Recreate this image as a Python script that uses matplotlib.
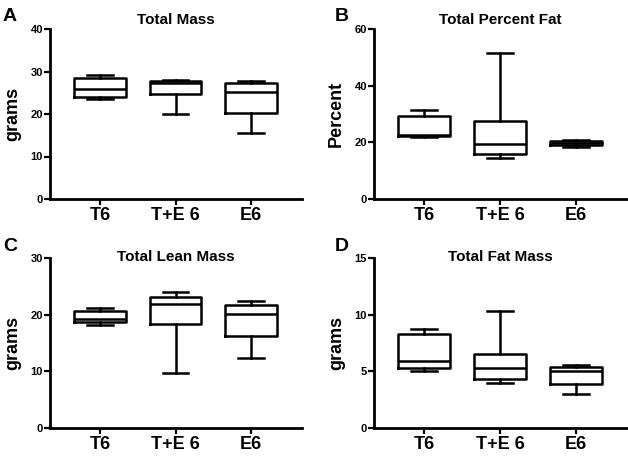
"""
body composition box plots, four panels
"""

import matplotlib.pyplot as plt

plt.rcParams['font.family'] = ['Liberation Sans', 'DejaVu Sans']
plt.rcParams['font.weight'] = 'bold'

groups = ["T6", "T+E 6", "E6"]

# (whisker low, q1, median, q3, whisker high) per group
total_mass = [(23.5, 24.1, 26.0, 28.5, 29.2),
              (20.0, 24.8, 27.3, 27.7, 28.0),
              (15.5, 20.2, 25.2, 27.3, 27.8)]
percent_fat = [(21.8, 22.2, 22.6, 29.4, 31.4),
               (14.4, 15.9, 19.4, 27.7, 51.7),
               (18.5, 18.9, 19.6, 20.5, 20.8)]
lean_mass = [(18.2, 18.7, 19.3, 20.6, 21.2),
             (9.7, 18.4, 21.9, 23.1, 24.0),
             (12.4, 16.2, 20.1, 21.7, 22.4)]
fat_mass = [(5.05, 5.3, 5.9, 8.3, 8.7),
            (3.95, 4.3, 5.3, 6.5, 10.3),
            (3.0, 3.9, 5.05, 5.4, 5.6)]

panels = [
    ("A", "Total Mass", "grams", total_mass, 40, 10),
    ("B", "Total Percent Fat", "Percent", percent_fat, 60, 20),
    ("C", "Total Lean Mass", "grams", lean_mass, 30, 10),
    ("D", "Total Fat Mass", "grams", fat_mass, 15, 5),
]

W, H = 628, 458
fig = plt.figure(figsize=(W / 100, H / 100), dpi=100)

# axes boxes in pixels: left, bottom (from top), width, height
boxes = [(50, 199, 252, 170), (374, 199, 253, 170),
         (50, 428, 252, 170), (374, 428, 253, 170)]
title_y = [1.03, 1.03, 0.985, 0.985]
letter_xy = [(3, 21), (335, 21), (3, 251), (335, 251)]

for i, (letter, title, ylab, data, ymax, step) in enumerate(panels):
    l, b, w, h = boxes[i]
    ax = fig.add_axes([l / W, (H - b) / H, w / W, h / H])
    stats = []
    for g, (lo, q1, med, q3, hi) in zip(groups, data):
        stats.append(dict(label=g, whislo=lo, q1=q1, med=med, q3=q3, whishi=hi))
    lw = 1.8
    ax.bxp(stats, positions=[1, 2, 3], widths=0.68, showfliers=False,
           boxprops=dict(color='black', linewidth=lw),
           whiskerprops=dict(color='black', linewidth=lw),
           capprops=dict(color='black', linewidth=lw),
           medianprops=dict(color='black', linewidth=lw))
    ax.set_xlim(0.338, 3.675)
    ax.set_ylim(0, ymax)
    ax.set_yticks(range(0, ymax + 1, step))
    ax.set_xticks([1, 2, 3])
    ax.set_xticklabels(groups, fontsize=13, fontweight='bold')
    for s in ['top', 'right']:
        ax.spines[s].set_visible(False)
    for s in ['left', 'bottom']:
        ax.spines[s].set_linewidth(2.0)
    ax.tick_params(axis='y', length=4, width=1.6, pad=1, labelsize=8)
    ax.tick_params(axis='x', length=4, width=1.6, pad=2)
    ax.set_ylabel(ylab, fontsize=13, fontweight='bold', labelpad=7)
    ax.set_title(title, fontsize=11, fontweight='bold', y=title_y[i], pad=0)
    fig.text(letter_xy[i][0] / W, 1 - letter_xy[i][1] / H, letter,
             fontsize=14, fontweight='bold', ha='left', va='baseline')

fig.savefig("out.png", dpi=100)
